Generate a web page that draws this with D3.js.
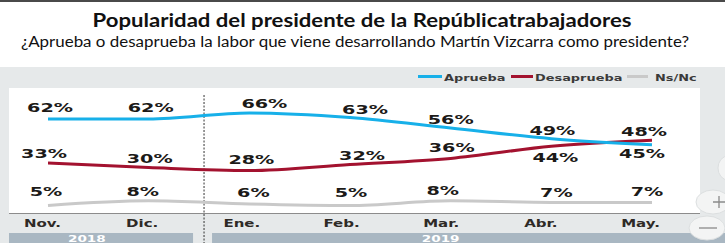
<!DOCTYPE html>
<html lang="es">
<head>
<meta charset="UTF-8">
<title>Popularidad del presidente</title>
<script src="https://d3js.org/d3.v7.min.js"></script>
<style>
  body { margin: 0; background: #fff; }
  svg { display: block; }
</style>
</head>
<body>
<script>
const months = ["Nov.", "Dic.", "Ene.", "Feb.", "Mar.", "Abr.", "May."];
const aprueba = [62, 62, 66, 63, 56, 49, 45];
const desaprueba = [33, 30, 28, 32, 36, 44, 48];
const nsnc = [5, 8, 6, 5, 8, 7, 7];
const years = ["2018", "2019"];
const yearStart = [0, 2];   // index of first month of each year
const yearEnd = [1, 6];
const seriesNames = ["Aprueba", "Desaprueba", "Ns/Nc"];

// label nudges (px) relative to each point: [dx, dy of baseline]
const offAprueba = [[2, -7], [2, -7], [15, -5], [15, -3], [0, -4], [1, -4], [-10, 13]];
const offDesaprueba = [[-4, -5], [1, -4], [2, -7], [12, -4], [1, -6], [4, 16], [-8, -4]];
const offNsnc = [[-2, -9], [-6, -5], [4, -7], [1, -8], [-8, -6], [5, -5], [-5, -6]];

const w = 725, h = 243;
const colors = ["#17b0e9", "#a3122f", "#c9c9c9"];

const svg = d3.select("body").append("svg")
  .attr("width", w).attr("height", h);

// header + backgrounds
svg.append("rect").attr("width", w).attr("height", h).attr("fill", "#fff");
svg.append("rect").attr("width", w).attr("height", 2).attr("fill", "#4a4a4a");
svg.append("rect").attr("y", 67).attr("width", w).attr("height", h - 67).attr("fill", "#e6e9ea");
svg.append("rect").attr("x", 9).attr("y", 88).attr("width", 691).attr("height", 125).attr("fill", "#fff");

svg.append("text")
  .attr("x", 362).attr("y", 27)
  .attr("text-anchor", "middle")
  .attr("font-family", "Lato")
  .attr("font-weight", "bold")
  .attr("font-size", 19.5)
  .attr("fill", "#111")
  .attr("textLength", 539).attr("lengthAdjust", "spacingAndGlyphs")
  .text("Popularidad del presidente de la Repúblicatrabajadores");

svg.append("text")
  .attr("x", 355).attr("y", 47)
  .attr("text-anchor", "middle")
  .attr("font-family", "Lato")
  .attr("font-size", 14.5)
  .attr("fill", "#111")
  .attr("textLength", 668).attr("lengthAdjust", "spacingAndGlyphs")
  .text("¿Aprueba o desaprueba la labor que viene desarrollando Martín Vizcarra como presidente?");

const x = d3.scalePoint().domain(months).range([48, 652]);
const xLab = d3.scalePoint().domain(months).range([42, 640]);
const y = d3.scaleLinear().domain([0, 100]).range([213, 61.3]);

// year bars
const divX = x(months[1]) + (x(months[2]) - x(months[1])) * 0.55;
const barEdges = [[9, divX - 11], [divX + 8, w]];
svg.selectAll(".yearbar")
  .data(years)
  .enter().append("rect")
  .attr("x", (d, i) => barEdges[i][0])
  .attr("y", 233)
  .attr("width", (d, i) => barEdges[i][1] - barEdges[i][0])
  .attr("height", 12)
  .attr("fill", "#a9b7c2");

svg.selectAll(".yeartxt")
  .data(years)
  .enter().append("g")
  .attr("transform", (d, i) => "translate(" + ((xLab(months[yearStart[i]]) + xLab(months[yearEnd[i]])) / 2 - (i === 0 ? 5 : 0)) + ",241.5)")
  .append("text")
  .attr("transform", "scale(1.6,1)")
  .attr("text-anchor", "middle")
  .attr("font-family", "DejaVu Sans")
  .attr("font-weight", "bold")
  .attr("font-size", 8.5)
  .attr("fill", "#fff")
  .text(d => d);

// baseline
svg.append("line")
  .attr("x1", 9).attr("x2", 700).attr("y1", 213.5).attr("y2", 213.5)
  .attr("stroke", "#8c8c8c").attr("stroke-width", 1);

// month axis
const xAxis = d3.axisBottom(xLab).tickSize(0).tickPadding(0);
const ax = svg.append("g")
  .attr("transform", "translate(0,227)")
  .call(xAxis);
ax.select(".domain").remove();
ax.selectAll("text")
  .attr("y", 0).attr("dy", 0)
  .attr("transform", "scale(1.5,1)")
  .attr("font-family", "DejaVu Sans")
  .attr("font-weight", "bold")
  .attr("font-size", 10)
  .attr("fill", "#2e2a26");

// dashed divider
svg.append("line")
  .attr("x1", divX).attr("x2", divX).attr("y1", 95).attr("y2", h)
  .attr("stroke", "#333").attr("stroke-width", 1)
  .attr("stroke-dasharray", "2,1.5");

// lines
const series = [aprueba, desaprueba, nsnc];
const offsets = [offAprueba, offDesaprueba, offNsnc];
const line = d3.line()
  .x((d, i) => x(months[i]))
  .y(d => y(d))
  .curve(d3.curveMonotoneX);

[2, 1, 0].forEach(s => {
  svg.append("path")
    .attr("d", line(series[s]))
    .attr("fill", "none")
    .attr("stroke", colors[s])
    .attr("stroke-width", 3)
    .attr("stroke-linecap", "butt");
});

// value labels
series.forEach((vals, s) => {
  svg.append("g").selectAll("g")
    .data(vals)
    .enter().append("g")
    .attr("transform", (d, i) => "translate(" + (x(months[i]) + offsets[s][i][0]) + "," + (y(d) + offsets[s][i][1]) + ")")
    .append("text")
    .attr("transform", "scale(1.6,1)")
    .attr("text-anchor", "middle")
    .attr("font-family", "DejaVu Sans")
    .attr("font-weight", "bold")
    .attr("font-size", 12)
    .attr("fill", "#1c1a18")
    .text(d => d + "%");
});

// legend
const legX = [418, 511, 627];
const legW = [24, 22, 21];
const legGap = [2, 2, 7];
const leg = svg.append("g");
seriesNames.forEach((n, i) => {
  leg.append("line")
    .attr("x1", legX[i]).attr("x2", legX[i] + legW[i])
    .attr("y1", 76.5).attr("y2", 76.5)
    .attr("stroke", colors[i]).attr("stroke-width", 3);
  leg.append("g")
    .attr("transform", "translate(" + (legX[i] + legW[i] + legGap[i]) + ",80.5)")
    .append("text")
    .attr("transform", "scale(1.36,1)")
    .attr("font-family", "DejaVu Sans")
    .attr("font-weight", "bold")
    .attr("font-size", 9.5)
    .attr("fill", "#3a3a3a")
    .text(n);
});

// map-style zoom buttons at the right edge
const btn = svg.append("g");
[[728, 168, 10, 12], [713, 202, 17, 12], [707, 228, 18, 12]].forEach(b => {
  btn.append("ellipse")
    .attr("cx", b[0]).attr("cy", b[1]).attr("rx", b[2]).attr("ry", b[3])
    .attr("fill", "#f3f4f4").attr("stroke", "#dcdfe0").attr("stroke-width", 1);
});
btn.append("path").attr("d", "M713,202H725M719,196V208").attr("stroke", "#8a8a8a").attr("stroke-width", 1.3);
btn.append("path").attr("d", "M699,228H717").attr("stroke", "#8a8a8a").attr("stroke-width", 1.3);
</script>
</body>
</html>
